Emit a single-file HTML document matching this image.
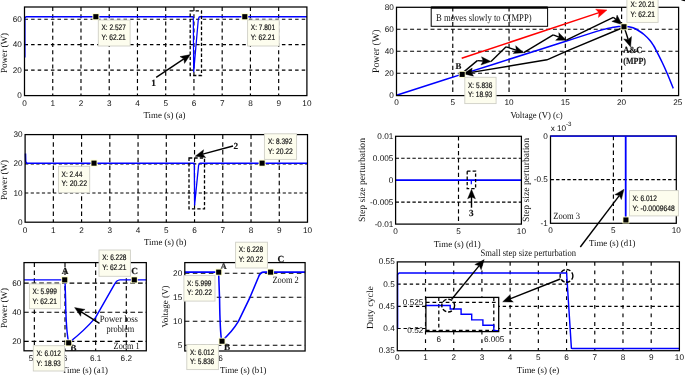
<!DOCTYPE html>
<html lang="en">
<head>
<meta charset="utf-8">
<title>MPPT simulation figure</title>
<style>
html,body{margin:0;padding:0;background:#fff;}
body{width:685px;height:376px;overflow:hidden;}
svg{display:block;}
text{text-rendering:geometricPrecision;}
</style>
</head>
<body>
<svg width="685" height="376" viewBox="0 0 685 376">
<rect width="685" height="376" fill="#fff"/>
<line x1="52.74" y1="7" x2="52.74" y2="95.6" stroke="#000" stroke-width="1.15" stroke-dasharray="4 3.2"/>
<line x1="80.98" y1="7" x2="80.98" y2="95.6" stroke="#000" stroke-width="1.15" stroke-dasharray="4 3.2"/>
<line x1="109.22" y1="7" x2="109.22" y2="95.6" stroke="#000" stroke-width="1.15" stroke-dasharray="4 3.2"/>
<line x1="137.46" y1="7" x2="137.46" y2="95.6" stroke="#000" stroke-width="1.15" stroke-dasharray="4 3.2"/>
<line x1="165.7" y1="7" x2="165.7" y2="95.6" stroke="#000" stroke-width="1.15" stroke-dasharray="4 3.2"/>
<line x1="193.94" y1="7" x2="193.94" y2="95.6" stroke="#000" stroke-width="1.15" stroke-dasharray="4 3.2"/>
<line x1="222.18" y1="7" x2="222.18" y2="95.6" stroke="#000" stroke-width="1.15" stroke-dasharray="4 3.2"/>
<line x1="250.42" y1="7" x2="250.42" y2="95.6" stroke="#000" stroke-width="1.15" stroke-dasharray="4 3.2"/>
<line x1="278.66" y1="7" x2="278.66" y2="95.6" stroke="#000" stroke-width="1.15" stroke-dasharray="4 3.2"/>
<line x1="24.5" y1="70.14" x2="306.9" y2="70.14" stroke="#000" stroke-width="1.15" stroke-dasharray="3.5 3.1"/>
<line x1="24.5" y1="44.68" x2="306.9" y2="44.68" stroke="#000" stroke-width="1.15" stroke-dasharray="3.5 3.1"/>
<line x1="24.5" y1="19.22" x2="306.9" y2="19.22" stroke="#000" stroke-width="1.15" stroke-dasharray="3.5 3.1"/>
<polyline points="24.8,57.41 24.8,17.91 26.1,16.71 193.3,16.71" fill="none" stroke="#0000ff" stroke-width="1.55" stroke-linejoin="round"/>
<polyline points="193.3,16.71 193.7,71.6 198.3,19.5 199.2,16.71" fill="none" stroke="#0000ff" stroke-width="1.25" stroke-linejoin="round"/>
<polyline points="199.2,16.71 306.9,16.71" fill="none" stroke="#0000ff" stroke-width="1.55" stroke-linejoin="round"/>
<rect x="24.5" y="7" width="282.4" height="88.6" fill="none" stroke="#000" stroke-width="1.25"/>
<text x="24.5" y="105.8" font-family='"Liberation Sans", sans-serif' font-size="8.2" text-anchor="middle" fill="#111">0</text>
<text x="52.74" y="105.8" font-family='"Liberation Sans", sans-serif' font-size="8.2" text-anchor="middle" fill="#111">1</text>
<text x="80.98" y="105.8" font-family='"Liberation Sans", sans-serif' font-size="8.2" text-anchor="middle" fill="#111">2</text>
<text x="109.22" y="105.8" font-family='"Liberation Sans", sans-serif' font-size="8.2" text-anchor="middle" fill="#111">3</text>
<text x="137.46" y="105.8" font-family='"Liberation Sans", sans-serif' font-size="8.2" text-anchor="middle" fill="#111">4</text>
<text x="165.7" y="105.8" font-family='"Liberation Sans", sans-serif' font-size="8.2" text-anchor="middle" fill="#111">5</text>
<text x="193.94" y="105.8" font-family='"Liberation Sans", sans-serif' font-size="8.2" text-anchor="middle" fill="#111">6</text>
<text x="222.18" y="105.8" font-family='"Liberation Sans", sans-serif' font-size="8.2" text-anchor="middle" fill="#111">7</text>
<text x="250.42" y="105.8" font-family='"Liberation Sans", sans-serif' font-size="8.2" text-anchor="middle" fill="#111">8</text>
<text x="278.66" y="105.8" font-family='"Liberation Sans", sans-serif' font-size="8.2" text-anchor="middle" fill="#111">9</text>
<text x="306.9" y="105.8" font-family='"Liberation Sans", sans-serif' font-size="8.2" text-anchor="middle" fill="#111">10</text>
<text x="21.9" y="98.1" font-family='"Liberation Sans", sans-serif' font-size="8.2" text-anchor="end" fill="#111">0</text>
<text x="21.9" y="72.64" font-family='"Liberation Sans", sans-serif' font-size="8.2" text-anchor="end" fill="#111">20</text>
<text x="21.9" y="47.18" font-family='"Liberation Sans", sans-serif' font-size="8.2" text-anchor="end" fill="#111">40</text>
<text x="21.9" y="21.72" font-family='"Liberation Sans", sans-serif' font-size="8.2" text-anchor="end" fill="#111">60</text>
<text x="164.5" y="118" font-family='"Liberation Serif", serif' font-size="9" text-anchor="middle" textLength="42" lengthAdjust="spacingAndGlyphs" fill="#111">Time (s) (a)</text>
<text x="7.3" y="53" font-family='"Liberation Serif", serif' font-size="9.3" text-anchor="middle" textLength="40" lengthAdjust="spacingAndGlyphs" transform="rotate(-90 7.3 53)" fill="#111">Power (W)</text>
<rect x="190.2" y="10.9" width="11.3" height="64.6" fill="none" stroke="#000" stroke-width="1.3" stroke-dasharray="3.3 2.1"/>
<line x1="156.2" y1="77.3" x2="183.87" y2="58.94" stroke="#000" stroke-width="1.4"/>
<polygon points="190.4,54.6 184.5,63.44 183.87,58.94 179.97,56.6" fill="#000" stroke="#000" stroke-width="0.4" stroke-linejoin="miter"/>
<text x="151.2" y="85.7" font-family='"Liberation Serif", serif' font-size="9.3" font-weight="bold" stroke="#111" stroke-width="0.15" fill="#111">1</text>
<rect x="92.41" y="13.26" width="6.9" height="6.9" fill="#ffffc8" stroke="none" stroke-width="1"/>
<rect x="93.31" y="14.16" width="5.1" height="5.1" fill="#000" stroke="none" stroke-width="1"/>
<rect x="98.3" y="20" width="31.8" height="26" fill="#fdfdee" stroke="#cfcfc6" stroke-width="0.9"/>
<text x="101.5" y="30.3" font-family='"Liberation Sans", sans-serif' font-size="8.0" textLength="24.3" lengthAdjust="spacingAndGlyphs" fill="#111" stroke="#111" stroke-width="0.18">X: 2.527</text>
<text x="101.5" y="39.6" font-family='"Liberation Sans", sans-serif' font-size="8.0" textLength="24.3" lengthAdjust="spacingAndGlyphs" fill="#111" stroke="#111" stroke-width="0.18">Y: 62.21</text>
<rect x="241.35" y="13.26" width="6.9" height="6.9" fill="#ffffc8" stroke="none" stroke-width="1"/>
<rect x="242.25" y="14.16" width="5.1" height="5.1" fill="#000" stroke="none" stroke-width="1"/>
<rect x="247.6" y="20" width="31.6" height="26" fill="#fdfdee" stroke="#cfcfc6" stroke-width="0.9"/>
<text x="250.8" y="30.3" font-family='"Liberation Sans", sans-serif' font-size="8.0" textLength="24.3" lengthAdjust="spacingAndGlyphs" fill="#111" stroke="#111" stroke-width="0.18">X: 7.801</text>
<text x="250.8" y="39.6" font-family='"Liberation Sans", sans-serif' font-size="8.0" textLength="24.3" lengthAdjust="spacingAndGlyphs" fill="#111" stroke="#111" stroke-width="0.18">Y: 62.21</text>
<line x1="53.34" y1="134.6" x2="53.34" y2="222.2" stroke="#000" stroke-width="1.15" stroke-dasharray="4.5 3.2"/>
<line x1="81.58" y1="134.6" x2="81.58" y2="222.2" stroke="#000" stroke-width="1.15" stroke-dasharray="4.5 3.2"/>
<line x1="109.82" y1="134.6" x2="109.82" y2="222.2" stroke="#000" stroke-width="1.15" stroke-dasharray="4.5 3.2"/>
<line x1="138.06" y1="134.6" x2="138.06" y2="222.2" stroke="#000" stroke-width="1.15" stroke-dasharray="4.5 3.2"/>
<line x1="166.3" y1="134.6" x2="166.3" y2="222.2" stroke="#000" stroke-width="1.15" stroke-dasharray="4.5 3.2"/>
<line x1="194.54" y1="134.6" x2="194.54" y2="222.2" stroke="#000" stroke-width="1.15" stroke-dasharray="4.5 3.2"/>
<line x1="222.78" y1="134.6" x2="222.78" y2="222.2" stroke="#000" stroke-width="1.15" stroke-dasharray="4.5 3.2"/>
<line x1="251.02" y1="134.6" x2="251.02" y2="222.2" stroke="#000" stroke-width="1.15" stroke-dasharray="4.5 3.2"/>
<line x1="279.26" y1="134.6" x2="279.26" y2="222.2" stroke="#000" stroke-width="1.15" stroke-dasharray="4.5 3.2"/>
<line x1="25.1" y1="193" x2="307.5" y2="193" stroke="#000" stroke-width="1.15" stroke-dasharray="3.2 2.4"/>
<line x1="25.1" y1="163.8" x2="307.5" y2="163.8" stroke="#000" stroke-width="1.15" stroke-dasharray="3.2 2.4"/>
<polyline points="25.5,153.58 25.7,161.66 26.9,163.16 194.3,163.16" fill="none" stroke="#0000ff" stroke-width="1.55" stroke-linejoin="round"/>
<polyline points="194.3,163.16 194.6,205 198.6,165.4 199.5,163.16" fill="none" stroke="#0000ff" stroke-width="1.3" stroke-linejoin="round"/>
<polyline points="199.5,163.16 307.5,163.16" fill="none" stroke="#0000ff" stroke-width="1.55" stroke-linejoin="round"/>
<rect x="25.1" y="134.6" width="282.4" height="87.6" fill="none" stroke="#000" stroke-width="1.25"/>
<text x="25.1" y="232.8" font-family='"Liberation Sans", sans-serif' font-size="8.2" text-anchor="middle" fill="#111">0</text>
<text x="53.34" y="232.8" font-family='"Liberation Sans", sans-serif' font-size="8.2" text-anchor="middle" fill="#111">1</text>
<text x="81.58" y="232.8" font-family='"Liberation Sans", sans-serif' font-size="8.2" text-anchor="middle" fill="#111">2</text>
<text x="109.82" y="232.8" font-family='"Liberation Sans", sans-serif' font-size="8.2" text-anchor="middle" fill="#111">3</text>
<text x="138.06" y="232.8" font-family='"Liberation Sans", sans-serif' font-size="8.2" text-anchor="middle" fill="#111">4</text>
<text x="166.3" y="232.8" font-family='"Liberation Sans", sans-serif' font-size="8.2" text-anchor="middle" fill="#111">5</text>
<text x="194.54" y="232.8" font-family='"Liberation Sans", sans-serif' font-size="8.2" text-anchor="middle" fill="#111">6</text>
<text x="222.78" y="232.8" font-family='"Liberation Sans", sans-serif' font-size="8.2" text-anchor="middle" fill="#111">7</text>
<text x="251.02" y="232.8" font-family='"Liberation Sans", sans-serif' font-size="8.2" text-anchor="middle" fill="#111">8</text>
<text x="279.26" y="232.8" font-family='"Liberation Sans", sans-serif' font-size="8.2" text-anchor="middle" fill="#111">9</text>
<text x="307.5" y="232.8" font-family='"Liberation Sans", sans-serif' font-size="8.2" text-anchor="middle" fill="#111">10</text>
<text x="22.5" y="224.7" font-family='"Liberation Sans", sans-serif' font-size="8.2" text-anchor="end" fill="#111">0</text>
<text x="22.5" y="195.5" font-family='"Liberation Sans", sans-serif' font-size="8.2" text-anchor="end" fill="#111">10</text>
<text x="22.5" y="166.3" font-family='"Liberation Sans", sans-serif' font-size="8.2" text-anchor="end" fill="#111">20</text>
<text x="22.5" y="137.1" font-family='"Liberation Sans", sans-serif' font-size="8.2" text-anchor="end" fill="#111">30</text>
<text x="165.2" y="245.3" font-family='"Liberation Serif", serif' font-size="9" text-anchor="middle" textLength="42.5" lengthAdjust="spacingAndGlyphs" fill="#111">Time (s) (b)</text>
<text x="7.3" y="180" font-family='"Liberation Serif", serif' font-size="9.3" text-anchor="middle" textLength="40" lengthAdjust="spacingAndGlyphs" transform="rotate(-90 7.3 180)" fill="#111">Power (W)</text>
<rect x="189" y="158" width="15.5" height="50.8" fill="none" stroke="#000" stroke-width="1.3" stroke-dasharray="3.3 2.1"/>
<line x1="233" y1="146" x2="202.77" y2="154.16" stroke="#000" stroke-width="1.4"/>
<polygon points="195.2,156.2 203.59,149.69 202.77,154.16 205.73,157.61" fill="#000" stroke="#000" stroke-width="0.4" stroke-linejoin="miter"/>
<text x="233.5" y="149" font-family='"Liberation Serif", serif' font-size="9.3" font-weight="bold" stroke="#111" stroke-width="0.15" fill="#111">2</text>
<rect x="90.56" y="159.71" width="6.9" height="6.9" fill="#ffffc8" stroke="none" stroke-width="1"/>
<rect x="91.46" y="160.61" width="5.1" height="5.1" fill="#000" stroke="none" stroke-width="1"/>
<rect x="58.4" y="166.3" width="31.3" height="26.4" fill="#fdfdee" stroke="#cfcfc6" stroke-width="0.9"/>
<text x="61.6" y="176.5" font-family='"Liberation Sans", sans-serif' font-size="8.0" textLength="20.8" lengthAdjust="spacingAndGlyphs" fill="#111" stroke="#111" stroke-width="0.18">X: 2.44</text>
<text x="61.6" y="186.2" font-family='"Liberation Sans", sans-serif' font-size="8.0" textLength="25.4" lengthAdjust="spacingAndGlyphs" fill="#111" stroke="#111" stroke-width="0.18">Y: 20.22</text>
<rect x="258.64" y="159.71" width="6.9" height="6.9" fill="#ffffc8" stroke="none" stroke-width="1"/>
<rect x="259.54" y="160.61" width="5.1" height="5.1" fill="#000" stroke="none" stroke-width="1"/>
<rect x="264.4" y="133.8" width="32.2" height="25.6" fill="#fdfdee" stroke="#cfcfc6" stroke-width="0.9"/>
<text x="268" y="144.4" font-family='"Liberation Sans", sans-serif' font-size="8.0" textLength="24.3" lengthAdjust="spacingAndGlyphs" fill="#111" stroke="#111" stroke-width="0.18">X: 8.392</text>
<text x="268" y="154.4" font-family='"Liberation Sans", sans-serif' font-size="8.0" textLength="24.8" lengthAdjust="spacingAndGlyphs" fill="#111" stroke="#111" stroke-width="0.18">Y: 20.22</text>
<line x1="34.35" y1="262.6" x2="34.35" y2="350.8" stroke="#000" stroke-width="1.15" stroke-dasharray="4.5 3.3"/>
<line x1="65" y1="262.6" x2="65" y2="350.8" stroke="#000" stroke-width="1.15" stroke-dasharray="4.5 3.3"/>
<line x1="95.65" y1="262.6" x2="95.65" y2="350.8" stroke="#000" stroke-width="1.15" stroke-dasharray="4.5 3.3"/>
<line x1="126.3" y1="262.6" x2="126.3" y2="350.8" stroke="#000" stroke-width="1.15" stroke-dasharray="4.5 3.3"/>
<line x1="24" y1="341.3" x2="146.3" y2="341.3" stroke="#000" stroke-width="1.15" stroke-dasharray="4.7 2.9"/>
<line x1="24" y1="312.2" x2="146.3" y2="312.2" stroke="#000" stroke-width="1.15" stroke-dasharray="4.7 2.9"/>
<line x1="24" y1="283.1" x2="146.3" y2="283.1" stroke="#000" stroke-width="1.15" stroke-dasharray="4.7 2.9"/>
<path d="M24,279.88 L65,279.88 L65.6,300 Q66,330 68.7,342.86 Q84,331 95.5,317.6 L114.6,284.2 Q116.6,280.08 120,279.88 L146.3,279.88" fill="none" stroke="#0000ff" stroke-width="1.45" stroke-linejoin="round"/>
<rect x="24" y="262.6" width="122.3" height="88.2" fill="none" stroke="#000" stroke-width="1.25"/>
<text x="21.4" y="343.8" font-family='"Liberation Sans", sans-serif' font-size="8.2" text-anchor="end" fill="#111">20</text>
<text x="21.4" y="314.7" font-family='"Liberation Sans", sans-serif' font-size="8.2" text-anchor="end" fill="#111">40</text>
<text x="21.4" y="285.6" font-family='"Liberation Sans", sans-serif' font-size="8.2" text-anchor="end" fill="#111">60</text>
<text x="34.35" y="361.2" font-family='"Liberation Sans", sans-serif' font-size="8.2" text-anchor="middle" fill="#111">5.9</text>
<text x="65" y="361.2" font-family='"Liberation Sans", sans-serif' font-size="8.2" text-anchor="middle" fill="#111">6</text>
<text x="95.65" y="361.2" font-family='"Liberation Sans", sans-serif' font-size="8.2" text-anchor="middle" fill="#111">6.1</text>
<text x="126.3" y="361.2" font-family='"Liberation Sans", sans-serif' font-size="8.2" text-anchor="middle" fill="#111">6.2</text>
<text x="85" y="373.2" font-family='"Liberation Serif", serif' font-size="9" text-anchor="middle" textLength="46" lengthAdjust="spacingAndGlyphs" fill="#111">Time (s) (a1)</text>
<text x="7.3" y="308" font-family='"Liberation Serif", serif' font-size="9.3" text-anchor="middle" textLength="40" lengthAdjust="spacingAndGlyphs" transform="rotate(-90 7.3 308)" fill="#111">Power (W)</text>
<text x="99.7" y="321.7" font-family='"Liberation Serif", serif' font-size="9.6" textLength="38.3" lengthAdjust="spacingAndGlyphs" fill="#111">Power loss</text>
<text x="106.6" y="332.2" font-family='"Liberation Serif", serif' font-size="9.6" textLength="27.7" lengthAdjust="spacingAndGlyphs" fill="#111">problem</text>
<text x="113.6" y="349" font-family='"Liberation Serif", serif' font-size="9.6" textLength="26" lengthAdjust="spacingAndGlyphs" fill="#111">Zoom 1</text>
<line x1="99.5" y1="323.4" x2="81.22" y2="311.8" stroke="#000" stroke-width="1.4"/>
<polygon points="74.6,307.6 85.07,309.39 81.22,311.8 80.68,316.31" fill="#000" stroke="#000" stroke-width="0.4" stroke-linejoin="miter"/>
<text x="65" y="273.8" font-family='"Liberation Serif", serif' font-size="9.3" text-anchor="middle" font-weight="bold" stroke="#111" stroke-width="0.15" fill="#111">A</text>
<text x="70.3" y="350.6" font-family='"Liberation Serif", serif' font-size="9.3" font-weight="bold" stroke="#111" stroke-width="0.15" fill="#111">B</text>
<text x="131.2" y="273.8" font-family='"Liberation Serif", serif' font-size="9.3" font-weight="bold" stroke="#111" stroke-width="0.15" fill="#111">C</text>
<rect x="61.25" y="276.43" width="6.9" height="6.9" fill="#ffffc8" stroke="none" stroke-width="1"/>
<rect x="62.15" y="277.33" width="5.1" height="5.1" fill="#000" stroke="none" stroke-width="1"/>
<rect x="65.25" y="339.41" width="6.9" height="6.9" fill="#ffffc8" stroke="none" stroke-width="1"/>
<rect x="66.15" y="340.31" width="5.1" height="5.1" fill="#000" stroke="none" stroke-width="1"/>
<rect x="130.85" y="276.43" width="6.9" height="6.9" fill="#ffffc8" stroke="none" stroke-width="1"/>
<rect x="131.75" y="277.33" width="5.1" height="5.1" fill="#000" stroke="none" stroke-width="1"/>
<rect x="29.4" y="283.9" width="31.2" height="24.8" fill="#fdfdee" stroke="#cfcfc6" stroke-width="0.9"/>
<text x="32.6" y="294.1" font-family='"Liberation Sans", sans-serif' font-size="8.0" textLength="24.3" lengthAdjust="spacingAndGlyphs" fill="#111" stroke="#111" stroke-width="0.18">X: 5.999</text>
<text x="32.6" y="303.8" font-family='"Liberation Sans", sans-serif' font-size="8.0" textLength="24.3" lengthAdjust="spacingAndGlyphs" fill="#111" stroke="#111" stroke-width="0.18">Y: 62.21</text>
<rect x="99" y="250" width="31.4" height="26.3" fill="#fdfdee" stroke="#cfcfc6" stroke-width="0.9"/>
<text x="102.2" y="260.2" font-family='"Liberation Sans", sans-serif' font-size="8.0" textLength="24.3" lengthAdjust="spacingAndGlyphs" fill="#111" stroke="#111" stroke-width="0.18">X: 6.228</text>
<text x="102.2" y="269.9" font-family='"Liberation Sans", sans-serif' font-size="8.0" textLength="24.3" lengthAdjust="spacingAndGlyphs" fill="#111" stroke="#111" stroke-width="0.18">Y: 62.21</text>
<rect x="33.3" y="345.7" width="31.3" height="25.3" fill="#fdfdee" stroke="#cfcfc6" stroke-width="0.9"/>
<text x="36.5" y="355.9" font-family='"Liberation Sans", sans-serif' font-size="8.0" textLength="24.3" lengthAdjust="spacingAndGlyphs" fill="#111" stroke="#111" stroke-width="0.18">X: 6.012</text>
<text x="36.5" y="365.6" font-family='"Liberation Sans", sans-serif' font-size="8.0" textLength="24.3" lengthAdjust="spacingAndGlyphs" fill="#111" stroke="#111" stroke-width="0.18">Y: 18.93</text>
<line x1="184.8" y1="345.2" x2="305.1" y2="345.2" stroke="#000" stroke-width="1.15" stroke-dasharray="4.6 3.4"/>
<line x1="184.8" y1="321.2" x2="305.1" y2="321.2" stroke="#000" stroke-width="1.15" stroke-dasharray="4.6 3.4"/>
<line x1="184.8" y1="297.2" x2="305.1" y2="297.2" stroke="#000" stroke-width="1.15" stroke-dasharray="4.6 3.4"/>
<line x1="184.8" y1="273.2" x2="305.1" y2="273.2" stroke="#000" stroke-width="1.15" stroke-dasharray="4.6 3.4"/>
<path d="M184.8,272.14 L218.6,272.14 L219.6,300 Q220,330 221.6,341.19 Q232,332 238.4,321.4 L250,297.3 L258.3,277.5 Q260,272.14 264,272.14 L305.1,272.14" fill="none" stroke="#0000ff" stroke-width="1.55" stroke-linejoin="round"/>
<rect x="184.8" y="262.6" width="120.3" height="88.4" fill="none" stroke="#000" stroke-width="1.25"/>
<text x="182.2" y="347.7" font-family='"Liberation Sans", sans-serif' font-size="8.2" text-anchor="end" fill="#111">5</text>
<text x="182.2" y="323.7" font-family='"Liberation Sans", sans-serif' font-size="8.2" text-anchor="end" fill="#111">10</text>
<text x="182.2" y="299.7" font-family='"Liberation Sans", sans-serif' font-size="8.2" text-anchor="end" fill="#111">15</text>
<text x="182.2" y="275.7" font-family='"Liberation Sans", sans-serif' font-size="8.2" text-anchor="end" fill="#111">20</text>
<text x="220.5" y="361.2" font-family='"Liberation Sans", sans-serif' font-size="8.2" text-anchor="middle" fill="#111">6</text>
<text x="243.3" y="373.3" font-family='"Liberation Serif", serif' font-size="9" text-anchor="middle" textLength="46.5" lengthAdjust="spacingAndGlyphs" fill="#111">Time (s) (b1)</text>
<text x="168" y="306.5" font-family='"Liberation Serif", serif' font-size="9" text-anchor="middle" textLength="42" lengthAdjust="spacingAndGlyphs" transform="rotate(-90 168 306.5)" fill="#111">Voltage (V)</text>
<text x="272.4" y="282.8" font-family='"Liberation Serif", serif' font-size="9.6" textLength="26.4" lengthAdjust="spacingAndGlyphs" fill="#111">Zoom 2</text>
<text x="220.6" y="268.8" font-family='"Liberation Serif", serif' font-size="8.6" font-weight="bold" stroke="#111" stroke-width="0.15" fill="#333">A</text>
<text x="224" y="349.6" font-family='"Liberation Serif", serif' font-size="9.3" font-weight="bold" stroke="#111" stroke-width="0.15" fill="#111">B</text>
<text x="277.5" y="262.3" font-family='"Liberation Serif", serif' font-size="9.3" font-weight="bold" stroke="#111" stroke-width="0.15" fill="#111">C</text>
<rect x="215.25" y="268.69" width="6.9" height="6.9" fill="#ffffc8" stroke="none" stroke-width="1"/>
<rect x="216.15" y="269.59" width="5.1" height="5.1" fill="#000" stroke="none" stroke-width="1"/>
<rect x="218.55" y="337.74" width="6.9" height="6.9" fill="#ffffc8" stroke="none" stroke-width="1"/>
<rect x="219.45" y="338.64" width="5.1" height="5.1" fill="#000" stroke="none" stroke-width="1"/>
<rect x="267.15" y="268.69" width="6.9" height="6.9" fill="#ffffc8" stroke="none" stroke-width="1"/>
<rect x="268.05" y="269.59" width="5.1" height="5.1" fill="#000" stroke="none" stroke-width="1"/>
<rect x="183.9" y="275.6" width="31.1" height="25.5" fill="#fdfdee" stroke="#cfcfc6" stroke-width="0.9"/>
<text x="187.1" y="285.5" font-family='"Liberation Sans", sans-serif' font-size="8.0" textLength="24.3" lengthAdjust="spacingAndGlyphs" fill="#111" stroke="#111" stroke-width="0.18">X: 5.999</text>
<text x="187.1" y="295.1" font-family='"Liberation Sans", sans-serif' font-size="8.0" textLength="24.8" lengthAdjust="spacingAndGlyphs" fill="#111" stroke="#111" stroke-width="0.18">Y: 20.22</text>
<rect x="235.6" y="242.2" width="31.8" height="25.8" fill="#fdfdee" stroke="#cfcfc6" stroke-width="0.9"/>
<text x="238.8" y="252.4" font-family='"Liberation Sans", sans-serif' font-size="8.0" textLength="24.3" lengthAdjust="spacingAndGlyphs" fill="#111" stroke="#111" stroke-width="0.18">X: 6.228</text>
<text x="238.8" y="262.1" font-family='"Liberation Sans", sans-serif' font-size="8.0" textLength="24.3" lengthAdjust="spacingAndGlyphs" fill="#111" stroke="#111" stroke-width="0.18">Y: 20.22</text>
<rect x="186.8" y="344.5" width="31.6" height="25.1" fill="#fdfdee" stroke="#cfcfc6" stroke-width="0.9"/>
<text x="190" y="354.7" font-family='"Liberation Sans", sans-serif' font-size="8.0" textLength="24.3" lengthAdjust="spacingAndGlyphs" fill="#111" stroke="#111" stroke-width="0.18">X: 6.012</text>
<text x="190" y="364.4" font-family='"Liberation Sans", sans-serif' font-size="8.0" textLength="24.3" lengthAdjust="spacingAndGlyphs" fill="#111" stroke="#111" stroke-width="0.18">Y: 5.836</text>
<line x1="452.77" y1="7.3" x2="452.77" y2="95.6" stroke="#000" stroke-width="1.15" stroke-dasharray="4.3 3"/>
<line x1="509.05" y1="7.3" x2="509.05" y2="95.6" stroke="#000" stroke-width="1.15" stroke-dasharray="4.3 3"/>
<line x1="565.33" y1="7.3" x2="565.33" y2="95.6" stroke="#000" stroke-width="1.15" stroke-dasharray="4.3 3"/>
<line x1="621.6" y1="7.3" x2="621.6" y2="95.6" stroke="#000" stroke-width="1.15" stroke-dasharray="4.3 3"/>
<line x1="396.5" y1="73.2" x2="678.6" y2="73.2" stroke="#000" stroke-width="1.15" stroke-dasharray="4 2.8"/>
<line x1="396.5" y1="51.2" x2="678.6" y2="51.2" stroke="#000" stroke-width="1.15" stroke-dasharray="4 2.8"/>
<line x1="396.5" y1="29.2" x2="678.6" y2="29.2" stroke="#000" stroke-width="1.15" stroke-dasharray="4 2.8"/>
<path d="M396.5,95.2 C407.33,91.73 437.58,82.02 461.5,74.4 C485.42,66.78 522.73,54.98 540,49.5 C557.27,44.02 556.72,44.18 565.1,41.5 C573.48,38.82 583.82,35.42 590.3,33.4 C596.78,31.38 600.38,30.37 604,29.4 C607.62,28.43 609.58,28.07 612,27.6 C614.42,27.13 616.45,26.8 618.5,26.6 C620.55,26.4 622.58,26.38 624.3,26.4 C626.02,26.42 627.35,26.47 628.8,26.7 C630.25,26.93 631.55,27.25 633,27.8 C634.45,28.35 635.67,28.88 637.5,30 C639.33,31.12 641.92,32.75 644,34.5 C646.08,36.25 648.37,38.58 650,40.5 C651.63,42.42 652.75,44.32 653.8,46 C654.85,47.68 654.93,47.93 656.3,50.6 C657.67,53.27 660.22,58.27 662,62 C663.78,65.73 665.12,68.6 667,73 C668.88,77.4 672.25,85.83 673.3,88.4" fill="none" stroke="#0000ff" stroke-width="1.5" stroke-linejoin="round"/>
<rect x="396.5" y="7.3" width="282.1" height="88.3" fill="none" stroke="#000" stroke-width="1.25"/>
<text x="396.5" y="105.4" font-family='"Liberation Sans", sans-serif' font-size="8.2" text-anchor="middle" fill="#111">0</text>
<text x="452.77" y="105.4" font-family='"Liberation Sans", sans-serif' font-size="8.2" text-anchor="middle" fill="#111">5</text>
<text x="509.05" y="105.4" font-family='"Liberation Sans", sans-serif' font-size="8.2" text-anchor="middle" fill="#111">10</text>
<text x="565.33" y="105.4" font-family='"Liberation Sans", sans-serif' font-size="8.2" text-anchor="middle" fill="#111">15</text>
<text x="621.6" y="105.4" font-family='"Liberation Sans", sans-serif' font-size="8.2" text-anchor="middle" fill="#111">20</text>
<text x="677.88" y="105.4" font-family='"Liberation Sans", sans-serif' font-size="8.2" text-anchor="middle" fill="#111">25</text>
<text x="393.9" y="97.7" font-family='"Liberation Sans", sans-serif' font-size="8.2" text-anchor="end" fill="#111">0</text>
<text x="393.9" y="75.7" font-family='"Liberation Sans", sans-serif' font-size="8.2" text-anchor="end" fill="#111">20</text>
<text x="393.9" y="53.7" font-family='"Liberation Sans", sans-serif' font-size="8.2" text-anchor="end" fill="#111">40</text>
<text x="393.9" y="31.7" font-family='"Liberation Sans", sans-serif' font-size="8.2" text-anchor="end" fill="#111">60</text>
<text x="393.9" y="9.7" font-family='"Liberation Sans", sans-serif' font-size="8.2" text-anchor="end" fill="#111">80</text>
<text x="510.4" y="118" font-family='"Liberation Serif", serif' font-size="9" textLength="52.3" lengthAdjust="spacingAndGlyphs" fill="#111">Voltage (V) (c)</text>
<text x="379.3" y="51.3" font-family='"Liberation Serif", serif' font-size="10" text-anchor="middle" textLength="43.6" lengthAdjust="spacingAndGlyphs" transform="rotate(-90 379.3 51.3)" fill="#111">Power (W)</text>
<rect x="431.2" y="7.3" width="116.4" height="19" fill="none" stroke="#000" stroke-width="1"/>
<line x1="431.2" y1="7.7" x2="547.6" y2="7.7" stroke="#000" stroke-width="2.3"/>
<text x="436.1" y="20.7" font-family='"Liberation Serif", serif' font-size="10.2" textLength="95.5" lengthAdjust="spacingAndGlyphs" fill="#111">B moves slowly to C(MPP)</text>
<line x1="461.7" y1="58.3" x2="599.03" y2="12.65" stroke="#ff0000" stroke-width="1.5"/>
<polygon points="607,10 598.42,17.49 599.03,12.65 595.65,9.14" fill="#ff0000" stroke="#ff0000" stroke-width="0.4" stroke-linejoin="miter"/>
<polyline points="461.7,73.6 477.3,60.6" fill="none" stroke="#000" stroke-width="1.4" stroke-linejoin="round"/>
<line x1="477.3" y1="60.6" x2="483.18" y2="61.03" stroke="#000" stroke-width="1.4"/>
<polygon points="491,61.6 480.93,64.98 483.18,61.03 481.52,56.8" fill="#000" stroke="#000" stroke-width="0.4" stroke-linejoin="miter"/>
<polyline points="491,61.6 506.1,46.8" fill="none" stroke="#000" stroke-width="1.4" stroke-linejoin="round"/>
<line x1="506.1" y1="46.8" x2="516.27" y2="50.21" stroke="#000" stroke-width="1.4"/>
<polygon points="523.7,52.7 513.11,53.47 516.27,50.21 515.71,45.7" fill="#000" stroke="#000" stroke-width="0.4" stroke-linejoin="miter"/>
<polyline points="523.7,52.7 553.2,34.8" fill="none" stroke="#000" stroke-width="1.4" stroke-linejoin="round"/>
<line x1="553.2" y1="34.8" x2="559.05" y2="37.21" stroke="#000" stroke-width="1.4"/>
<polygon points="566.3,40.2 555.68,40.26 559.05,37.21 558.8,32.67" fill="#000" stroke="#000" stroke-width="0.4" stroke-linejoin="miter"/>
<polyline points="566.3,40.2 613.3,17.3" fill="none" stroke="#000" stroke-width="1.4" stroke-linejoin="round"/>
<line x1="613.3" y1="17.3" x2="615.96" y2="19.5" stroke="#000" stroke-width="1.4"/>
<polygon points="622,24.5 611.84,21.41 615.96,19.5 617.06,15.09" fill="#000" stroke="#000" stroke-width="0.4" stroke-linejoin="miter"/>
<polyline points="622,28 569,50.2 547,59.8" fill="none" stroke="#000" stroke-width="1.4" stroke-linejoin="round"/>
<line x1="547" y1="59.8" x2="471.42" y2="72.34" stroke="#000" stroke-width="1.4"/>
<polygon points="463.2,73.7 472.2,68.05 471.42,72.34 473.54,76.14" fill="#000" stroke="#000" stroke-width="0.4" stroke-linejoin="miter"/>
<line x1="624.5" y1="28" x2="628.2" y2="39.54" stroke="#000" stroke-width="1.4"/>
<polygon points="630.6,47 623.7,38.92 628.2,39.54 631.51,36.42" fill="#000" stroke="#000" stroke-width="0.4" stroke-linejoin="miter"/>
<text x="623.3" y="52.5" font-family='"Liberation Serif", serif' font-size="9.3" font-weight="bold" stroke="#111" stroke-width="0.15" textLength="19" lengthAdjust="spacingAndGlyphs" fill="#111">A&amp;C</text>
<text x="623.3" y="63.5" font-family='"Liberation Serif", serif' font-size="9.3" font-weight="bold" stroke="#111" stroke-width="0.15" textLength="22.7" lengthAdjust="spacingAndGlyphs" fill="#111">(MPP)</text>
<text x="455.5" y="69.2" font-family='"Liberation Serif", serif' font-size="8.8" font-weight="bold" stroke="#111" stroke-width="0.15" fill="#111">B</text>
<rect x="458.73" y="70.93" width="6.9" height="6.9" fill="#ffffc8" stroke="none" stroke-width="1"/>
<rect x="459.63" y="71.83" width="5.1" height="5.1" fill="#000" stroke="none" stroke-width="1"/>
<rect x="464.8" y="77.3" width="31.3" height="26.3" fill="#fdfdee" stroke="#cfcfc6" stroke-width="0.9"/>
<text x="468" y="87.5" font-family='"Liberation Sans", sans-serif' font-size="8.0" textLength="24.3" lengthAdjust="spacingAndGlyphs" fill="#111" stroke="#111" stroke-width="0.18">X: 5.836</text>
<text x="468" y="97.2" font-family='"Liberation Sans", sans-serif' font-size="8.0" textLength="24.3" lengthAdjust="spacingAndGlyphs" fill="#111" stroke="#111" stroke-width="0.18">Y: 18.93</text>
<rect x="620.51" y="23.32" width="6.9" height="6.9" fill="#ffffc8" stroke="none" stroke-width="1"/>
<rect x="621.41" y="24.22" width="5.1" height="5.1" fill="#000" stroke="none" stroke-width="1"/>
<rect x="626.9" y="-4" width="31.2" height="26.4" fill="#fdfdee" stroke="#cfcfc6" stroke-width="0.9"/>
<text x="630.6" y="6.7" font-family='"Liberation Sans", sans-serif' font-size="8.0" textLength="24.3" lengthAdjust="spacingAndGlyphs" fill="#111" stroke="#111" stroke-width="0.18">X: 20.21</text>
<text x="630.6" y="16.6" font-family='"Liberation Sans", sans-serif' font-size="8.0" textLength="24.3" lengthAdjust="spacingAndGlyphs" fill="#111" stroke="#111" stroke-width="0.18">Y: 62.21</text>
<line x1="458.5" y1="136.3" x2="458.5" y2="224.1" stroke="#000" stroke-width="1.15" stroke-dasharray="4.3 3"/>
<line x1="395.6" y1="202.15" x2="521.4" y2="202.15" stroke="#000" stroke-width="1.15" stroke-dasharray="3.4 2.2"/>
<line x1="395.6" y1="158.25" x2="521.4" y2="158.25" stroke="#000" stroke-width="1.15" stroke-dasharray="3.4 2.2"/>
<polyline points="395.6,180.2 521.4,180.2" fill="none" stroke="#0000ff" stroke-width="1.8" stroke-linejoin="round"/>
<line x1="471.3" y1="180.2" x2="471.3" y2="184.2" stroke="#0000ff" stroke-width="1.2"/>
<rect x="395.6" y="136.3" width="125.8" height="87.8" fill="none" stroke="#000" stroke-width="1.25"/>
<text x="395.6" y="233.7" font-family='"Liberation Sans", sans-serif' font-size="8.2" text-anchor="middle" fill="#111">0</text>
<text x="458.5" y="233.7" font-family='"Liberation Sans", sans-serif' font-size="8.2" text-anchor="middle" fill="#111">5</text>
<text x="521.4" y="233.7" font-family='"Liberation Sans", sans-serif' font-size="8.2" text-anchor="middle" fill="#111">10</text>
<text x="393.3" y="226.6" font-family='"Liberation Sans", sans-serif' font-size="8.2" text-anchor="end" fill="#111">-0.01</text>
<text x="393.3" y="204.65" font-family='"Liberation Sans", sans-serif' font-size="8.2" text-anchor="end" fill="#111">-0.005</text>
<text x="393.3" y="182.7" font-family='"Liberation Sans", sans-serif' font-size="8.2" text-anchor="end" fill="#111">0</text>
<text x="393.3" y="160.75" font-family='"Liberation Sans", sans-serif' font-size="8.2" text-anchor="end" fill="#111">0.005</text>
<text x="393.3" y="138.8" font-family='"Liberation Sans", sans-serif' font-size="8.2" text-anchor="end" fill="#111">0.01</text>
<text x="433.7" y="246.5" font-family='"Liberation Serif", serif' font-size="9" textLength="47" lengthAdjust="spacingAndGlyphs" fill="#111">Time (s) (d1)</text>
<text x="364.8" y="180" font-family='"Liberation Serif", serif' font-size="9.5" text-anchor="middle" textLength="84" lengthAdjust="spacingAndGlyphs" transform="rotate(-90 364.8 180)" fill="#111">Step size perturbation</text>
<rect x="467.2" y="171.1" width="8.4" height="17.6" fill="none" stroke="#000" stroke-width="1.3" stroke-dasharray="3.3 2.1"/>
<line x1="471.5" y1="207.7" x2="471.5" y2="196.9" stroke="#000" stroke-width="1.4"/>
<polygon points="471.5,189.3 475.4,198.8 471.5,196.9 467.6,198.8" fill="#000" stroke="#000" stroke-width="0.4" stroke-linejoin="miter"/>
<text x="468.9" y="216" font-family='"Liberation Serif", serif' font-size="9.3" font-weight="bold" stroke="#111" stroke-width="0.15" fill="#111">3</text>
<line x1="613.4" y1="136" x2="613.4" y2="223.3" stroke="#000" stroke-width="1.15" stroke-dasharray="4.3 3"/>
<line x1="550.5" y1="179.65" x2="676.3" y2="179.65" stroke="#000" stroke-width="1.15" stroke-dasharray="3.4 2.2"/>
<rect x="550.5" y="136" width="125.8" height="87.3" fill="none" stroke="#000" stroke-width="1.25"/>
<polyline points="550.5,136 676.3,136" fill="none" stroke="#0000ff" stroke-width="1.25" stroke-linejoin="round"/>
<line x1="625.7" y1="136" x2="625.7" y2="220" stroke="#0000ff" stroke-width="1.8"/>
<text x="550.5" y="232.9" font-family='"Liberation Sans", sans-serif' font-size="8.2" text-anchor="middle" fill="#111">0</text>
<text x="613.4" y="232.9" font-family='"Liberation Sans", sans-serif' font-size="8.2" text-anchor="middle" fill="#111">5</text>
<text x="676.3" y="232.9" font-family='"Liberation Sans", sans-serif' font-size="8.2" text-anchor="middle" fill="#111">10</text>
<text x="547.9" y="225.8" font-family='"Liberation Sans", sans-serif' font-size="8.2" text-anchor="end" fill="#111">-1</text>
<text x="547.9" y="182.15" font-family='"Liberation Sans", sans-serif' font-size="8.2" text-anchor="end" fill="#111">-0.5</text>
<text x="547.9" y="138.5" font-family='"Liberation Sans", sans-serif' font-size="8.2" text-anchor="end" fill="#111">0</text>
<text x="528.9" y="180" font-family='"Liberation Serif", serif' font-size="9.5" text-anchor="middle" textLength="84" lengthAdjust="spacingAndGlyphs" transform="rotate(-90 528.9 180)" fill="#111">Step size perturbation</text>
<text x="550.7" y="130.6" font-family='"Liberation Sans", sans-serif' font-size="8.2" fill="#111">x 10</text>
<text x="566" y="125.7" font-family='"Liberation Sans", sans-serif' font-size="6.2" fill="#111">-3</text>
<text x="553.2" y="219.4" font-family='"Liberation Serif", serif' font-size="9.6" textLength="26.8" lengthAdjust="spacingAndGlyphs" fill="#111">Zoom 3</text>
<text x="589" y="246.3" font-family='"Liberation Serif", serif' font-size="9" textLength="46.5" lengthAdjust="spacingAndGlyphs" fill="#111">Time (s) (d1)</text>
<line x1="580.3" y1="247" x2="619.27" y2="195.55" stroke="#000" stroke-width="1.4"/>
<polygon points="624,189.3 621.35,199.59 619.27,195.55 614.81,194.64" fill="#000" stroke="#000" stroke-width="0.4" stroke-linejoin="miter"/>
<rect x="622.45" y="216.55" width="6.9" height="6.9" fill="#ffffc8" stroke="none" stroke-width="1"/>
<rect x="623.35" y="217.45" width="5.1" height="5.1" fill="#000" stroke="none" stroke-width="1"/>
<rect x="629.5" y="190.6" width="48.9" height="25.3" fill="#fdfdee" stroke="#cfcfc6" stroke-width="0.9"/>
<text x="632.5" y="201" font-family='"Liberation Sans", sans-serif' font-size="8.0" textLength="24.3" lengthAdjust="spacingAndGlyphs" fill="#111" stroke="#111" stroke-width="0.18">X: 6.012</text>
<text x="632.5" y="210.5" font-family='"Liberation Sans", sans-serif' font-size="8.0" textLength="42.3" lengthAdjust="spacingAndGlyphs" fill="#111" stroke="#111" stroke-width="0.18">Y: -0.0009648</text>
<line x1="425.51" y1="261.9" x2="425.51" y2="350.7" stroke="#000" stroke-width="1.15" stroke-dasharray="3.8 4.8"/>
<line x1="453.72" y1="261.9" x2="453.72" y2="350.7" stroke="#000" stroke-width="1.15" stroke-dasharray="3.8 4.8"/>
<line x1="481.93" y1="261.9" x2="481.93" y2="350.7" stroke="#000" stroke-width="1.15" stroke-dasharray="3.8 4.8"/>
<line x1="510.14" y1="261.9" x2="510.14" y2="350.7" stroke="#000" stroke-width="1.15" stroke-dasharray="3.8 4.8"/>
<line x1="538.35" y1="261.9" x2="538.35" y2="350.7" stroke="#000" stroke-width="1.15" stroke-dasharray="3.8 4.8"/>
<line x1="566.56" y1="261.9" x2="566.56" y2="350.7" stroke="#000" stroke-width="1.15" stroke-dasharray="3.8 4.8"/>
<line x1="594.77" y1="261.9" x2="594.77" y2="350.7" stroke="#000" stroke-width="1.15" stroke-dasharray="3.8 4.8"/>
<line x1="622.98" y1="261.9" x2="622.98" y2="350.7" stroke="#000" stroke-width="1.15" stroke-dasharray="3.8 4.8"/>
<line x1="651.19" y1="261.9" x2="651.19" y2="350.7" stroke="#000" stroke-width="1.15" stroke-dasharray="3.8 4.8"/>
<line x1="397.3" y1="328.5" x2="679.4" y2="328.5" stroke="#000" stroke-width="1.15" stroke-dasharray="3.4 2.8"/>
<line x1="397.3" y1="306.3" x2="679.4" y2="306.3" stroke="#000" stroke-width="1.15" stroke-dasharray="3.4 2.8"/>
<line x1="397.3" y1="284.1" x2="679.4" y2="284.1" stroke="#000" stroke-width="1.15" stroke-dasharray="3.4 2.8"/>
<polyline points="397.6,328.5 397.6,274.6 399.1,273 566.6,273 571.4,348.26 572.5,348.48 679.4,348.48" fill="none" stroke="#0000ff" stroke-width="1.45" stroke-linejoin="round"/>
<rect x="397.3" y="261.9" width="282.1" height="88.8" fill="none" stroke="#000" stroke-width="1.25"/>
<text x="397.3" y="360.3" font-family='"Liberation Sans", sans-serif' font-size="8.2" text-anchor="middle" fill="#111">0</text>
<text x="425.51" y="360.3" font-family='"Liberation Sans", sans-serif' font-size="8.2" text-anchor="middle" fill="#111">1</text>
<text x="453.72" y="360.3" font-family='"Liberation Sans", sans-serif' font-size="8.2" text-anchor="middle" fill="#111">2</text>
<text x="481.93" y="360.3" font-family='"Liberation Sans", sans-serif' font-size="8.2" text-anchor="middle" fill="#111">3</text>
<text x="510.14" y="360.3" font-family='"Liberation Sans", sans-serif' font-size="8.2" text-anchor="middle" fill="#111">4</text>
<text x="538.35" y="360.3" font-family='"Liberation Sans", sans-serif' font-size="8.2" text-anchor="middle" fill="#111">5</text>
<text x="566.56" y="360.3" font-family='"Liberation Sans", sans-serif' font-size="8.2" text-anchor="middle" fill="#111">6</text>
<text x="594.77" y="360.3" font-family='"Liberation Sans", sans-serif' font-size="8.2" text-anchor="middle" fill="#111">7</text>
<text x="622.98" y="360.3" font-family='"Liberation Sans", sans-serif' font-size="8.2" text-anchor="middle" fill="#111">8</text>
<text x="651.19" y="360.3" font-family='"Liberation Sans", sans-serif' font-size="8.2" text-anchor="middle" fill="#111">9</text>
<text x="679.4" y="360.3" font-family='"Liberation Sans", sans-serif' font-size="8.2" text-anchor="middle" fill="#111">10</text>
<text x="394.7" y="353.2" font-family='"Liberation Sans", sans-serif' font-size="8.2" text-anchor="end" fill="#111">0.35</text>
<text x="394.7" y="331" font-family='"Liberation Sans", sans-serif' font-size="8.2" text-anchor="end" fill="#111">0.4</text>
<text x="394.7" y="308.8" font-family='"Liberation Sans", sans-serif' font-size="8.2" text-anchor="end" fill="#111">0.45</text>
<text x="394.7" y="286.6" font-family='"Liberation Sans", sans-serif' font-size="8.2" text-anchor="end" fill="#111">0.5</text>
<text x="394.7" y="264.4" font-family='"Liberation Sans", sans-serif' font-size="8.2" text-anchor="end" fill="#111">0.55</text>
<text x="538" y="372.8" font-family='"Liberation Serif", serif' font-size="9" text-anchor="middle" textLength="42.5" lengthAdjust="spacingAndGlyphs" fill="#111">Time (s) (e)</text>
<text x="372.8" y="307.5" font-family='"Liberation Serif", serif' font-size="9.3" text-anchor="middle" textLength="43" lengthAdjust="spacingAndGlyphs" transform="rotate(-90 372.8 307.5)" fill="#111">Duty cycle</text>
<rect x="425.9" y="297.4" width="72.8" height="34.2" fill="#fff" stroke="none" stroke-width="1"/>
<line x1="425.9" y1="302.3" x2="498.7" y2="302.3" stroke="#000" stroke-width="1.25" stroke-dasharray="3.7 2.9"/>
<line x1="438.8" y1="297.4" x2="438.8" y2="331.6" stroke="#000" stroke-width="1.25" stroke-dasharray="3.7 2.9"/>
<line x1="493.8" y1="297.4" x2="493.8" y2="331.6" stroke="#000" stroke-width="1.25" stroke-dasharray="3.7 2.9"/>
<line x1="425.9" y1="330.5" x2="498.7" y2="330.5" stroke="#000" stroke-width="1.5" stroke-dasharray="3.7 2.9"/>
<polyline points="425.9,305.5 450.2,305.5 450.2,309 461.1,309 461.1,314.3 471.7,314.3 471.7,319.9 482.9,319.9 482.9,325.2 493.8,325.2 493.8,330.6 498.7,330.6" fill="none" stroke="#0000ff" stroke-width="1.4" stroke-linejoin="miter"/>
<rect x="425.9" y="297.4" width="72.8" height="34.2" fill="none" stroke="#000" stroke-width="1.3"/>
<text x="423.3" y="305" font-family='"Liberation Sans", sans-serif' font-size="8.2" text-anchor="end" fill="#111">0.525</text>
<text x="423.3" y="333.4" font-family='"Liberation Sans", sans-serif' font-size="8.2" text-anchor="end" fill="#111">0.52</text>
<text x="438.8" y="341.5" font-family='"Liberation Sans", sans-serif' font-size="8.2" text-anchor="middle" fill="#111">6</text>
<text x="494.2" y="341.5" font-family='"Liberation Sans", sans-serif' font-size="8.2" text-anchor="middle" fill="#111">6.005</text>
<circle cx="448.2" cy="305.6" r="6.4" fill="none" stroke="#000" stroke-width="1.4" stroke-dasharray="4 1.9"/>
<circle cx="566.5" cy="275.9" r="6.4" fill="none" stroke="#000" stroke-width="1.4" stroke-dasharray="4 1.9"/>
<line x1="451.5" y1="299.5" x2="479.23" y2="265.66" stroke="#000" stroke-width="1.4"/>
<polygon points="484.2,259.6 481.16,269.78 479.23,265.66 474.82,264.58" fill="#000" stroke="#000" stroke-width="0.4" stroke-linejoin="miter"/>
<line x1="560.3" y1="279" x2="509.99" y2="298.91" stroke="#000" stroke-width="1.4"/>
<polygon points="502.7,301.8 510.3,294.38 509.99,298.91 513.32,302.01" fill="#000" stroke="#000" stroke-width="0.4" stroke-linejoin="miter"/>
<text x="480.6" y="256.2" font-family='"Liberation Serif", serif' font-size="9.8" textLength="95.4" lengthAdjust="spacingAndGlyphs" fill="#111">Small step size perturbation</text>
<path d="M680.8,0 Q683,1.3 685,1.1 L685,0 Z" fill="#000" stroke="none" stroke-width="1" stroke-linejoin="round"/>
</svg>
</body>
</html>
